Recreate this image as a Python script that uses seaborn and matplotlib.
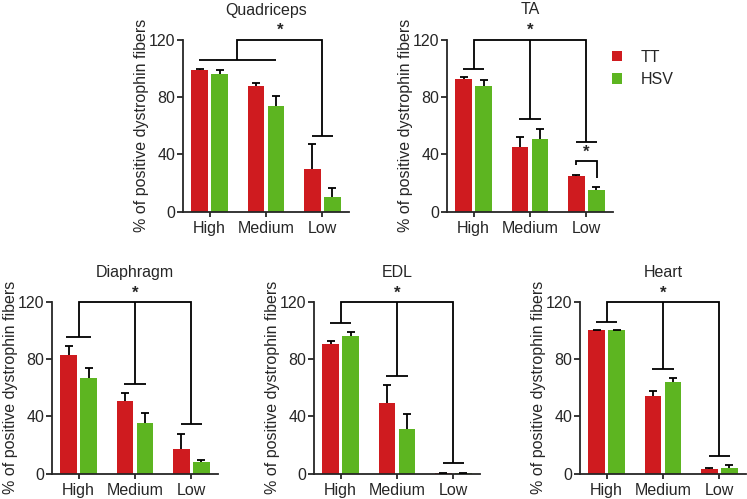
import numpy as np
import pandas as pd
import seaborn as sns
import matplotlib
matplotlib.use("Agg")
import matplotlib.pyplot as plt

# data
levels = ["High", "Medium", "Low"]
groups = ["TT", "HSV"]
muscles = ["Quadriceps", "TA", "Diaphragm", "EDL", "Heart"]

quad_tt = [98.5, 87.5, 29.5]
quad_tt_err = [0.6, 2.4, 17.4]
quad_hsv = [96.0, 73.5, 10.2]
quad_hsv_err = [2.5, 7.0, 6.0]

ta_tt = [92.5, 44.8, 24.7]
ta_tt_err = [1.1, 7.4, 0.7]
ta_hsv = [87.4, 50.6, 15.0]
ta_hsv_err = [4.3, 7.0, 1.8]

dia_tt = [82.7, 51.0, 17.5]
dia_tt_err = [6.3, 5.6, 10.5]
dia_hsv = [67.1, 35.2, 8.2]
dia_hsv_err = [6.8, 7.0, 1.6]

edl_tt = [90.4, 49.4, 0.5]
edl_tt_err = [1.9, 12.6, 0.2]
edl_hsv = [96.2, 31.0, 0.4]
edl_hsv_err = [2.4, 10.5, 0.2]

heart_tt = [100.0, 54.5, 3.3]
heart_tt_err = [0.0, 3.3, 0.9]
heart_hsv = [100.0, 63.8, 4.2]
heart_hsv_err = [0.0, 3.1, 1.6]

# significance bracket levels (drop heights per group)
ta_drops = [99.6, 64.3, 48.7]
dia_drops = [95.3, 62.9, 34.5]
edl_drops = [105.1, 68.3, 7.5]
heart_drops = [106.0, 73.2, 12.3]
quad_pair_level = 105.6
quad_low_drop = 52.7
ta_low_pair = [35.0, 32.5, 23.2]

means = {
    "Quadriceps": (quad_tt, quad_hsv),
    "TA": (ta_tt, ta_hsv),
    "Diaphragm": (dia_tt, dia_hsv),
    "EDL": (edl_tt, edl_hsv),
    "Heart": (heart_tt, heart_hsv),
}
errs = {
    "Quadriceps": (quad_tt_err, quad_hsv_err),
    "TA": (ta_tt_err, ta_hsv_err),
    "Diaphragm": (dia_tt_err, dia_hsv_err),
    "EDL": (edl_tt_err, edl_hsv_err),
    "Heart": (heart_tt_err, heart_hsv_err),
}

rows = []
for m in muscles:
    for g, vals in zip(groups, means[m]):
        for lv, v in zip(levels, vals):
            rows.append({"muscle": m, "level": lv, "group": g, "value": v})
df = pd.DataFrame(rows)

sns.set_style("ticks")
plt.rcParams["font.family"] = ["Liberation Sans", "DejaVu Sans"]
FS = 11.5

palette = {"TT": "#cf1b1f", "HSV": "#5db521"}
W, H = 747, 499
fig = plt.figure(figsize=(W / 100, H / 100), dpi=100)

# axes rectangles in pixels: left, top
rects = {
    "Quadriceps": (183, 39.5),
    "TA": (447, 39.5),
    "Diaphragm": (52, 301.7),
    "EDL": (314, 301.7),
    "Heart": (580, 301.7),
}
ax_w, ax_h = 166, 172
LW = 1.3


def bracket(ax, xs, ys):
    ax.plot(xs, ys, color="k", lw=LW, clip_on=False, solid_capstyle="butt",
            solid_joinstyle="miter", zorder=5)


axes = {}
for m in muscles:
    left, top = rects[m]
    ax = fig.add_axes([left / W, (H - top - ax_h) / H, ax_w / W, ax_h / H])
    axes[m] = ax
    sub = df[df.muscle == m]
    sns.barplot(data=sub, x="level", y="value", hue="group", hue_order=groups,
                order=levels, palette=palette, width=0.71, gap=0.175,
                errorbar=None, saturation=1, linewidth=0, ax=ax,
                legend=(m == "TA"))
    for cont, err in zip(ax.containers, errs[m]):
        xs = [b.get_x() + b.get_width() / 2 for b in cont]
        ys = [b.get_height() for b in cont]
        err = np.array(err)
        eb = ax.errorbar(xs, ys, yerr=[np.zeros_like(err), err], fmt="none",
                         ecolor="k", elinewidth=LW, capsize=3, capthick=LW,
                         zorder=4)
        eb[1][0].set_visible(False)  # only the upper cap
    ax.set_xlim(-0.47, 2.47)
    ax.set_ylim(0, 120)
    ax.set_yticks([0, 40, 80, 120])
    ax.set_xlabel("")
    ax.set_ylabel("% of positive dystrophin fibers", fontsize=FS)
    ax.yaxis.set_label_coords(-34 / ax_w, 0.5)
    ax.set_title(m, fontsize=FS, pad=18)
    sns.despine(ax=ax)
    for s in ["left", "bottom"]:
        ax.spines[s].set_linewidth(LW)
    ax.tick_params(axis="y", length=4, width=LW, pad=1.5, labelsize=FS)
    ax.tick_params(axis="x", length=3.5, width=LW, pad=3, labelsize=FS)

# Quadriceps brackets
ax = axes["Quadriceps"]
bracket(ax, [-0.18, 1.18], [quad_pair_level, quad_pair_level])
bracket(ax, [0.48, 0.48, 2.0, 2.0], [quad_pair_level, 120, 120, quad_low_drop])
bracket(ax, [1.81, 2.19], [quad_low_drop, quad_low_drop])
ax.text(1.25, 121, "*", ha="center", va="bottom", fontsize=12, fontweight="bold")

# standard brackets: High, Medium, Low each joined at 120
for m, drops in [("TA", ta_drops), ("Diaphragm", dia_drops),
                 ("EDL", edl_drops), ("Heart", heart_drops)]:
    ax = axes[m]
    bracket(ax, [0, 0, 2, 2], [drops[0], 120, 120, drops[2]])
    bracket(ax, [1, 1], [120, drops[1]])
    for i, d in enumerate(drops):
        hw = 0.22 if (m == "Diaphragm" and i == 0) else 0.19
        bracket(ax, [i - hw, i + hw], [d, d])
    ax.text(1, 121, "*", ha="center", va="bottom", fontsize=12, fontweight="bold")

# TA low pair comparison
ax = axes["TA"]
bracket(ax, [1.82, 1.82, 2.18, 2.18],
        [ta_low_pair[1], ta_low_pair[0], ta_low_pair[0], ta_low_pair[2]])
ax.text(2.0, ta_low_pair[0] + 1, "*", ha="center", va="bottom", fontsize=12,
        fontweight="bold")

handles, labels = axes["TA"].get_legend_handles_labels()
axes["TA"].get_legend().remove()
fig.legend(handles, labels, loc="upper left", bbox_to_anchor=(612 / W, 1 - 50 / H),
           frameon=False, fontsize=FS, handlelength=0.6, handleheight=0.6,
           handletextpad=1.2, labelspacing=0.45, borderpad=0, borderaxespad=0)

fig.savefig("out.png", dpi=100)
